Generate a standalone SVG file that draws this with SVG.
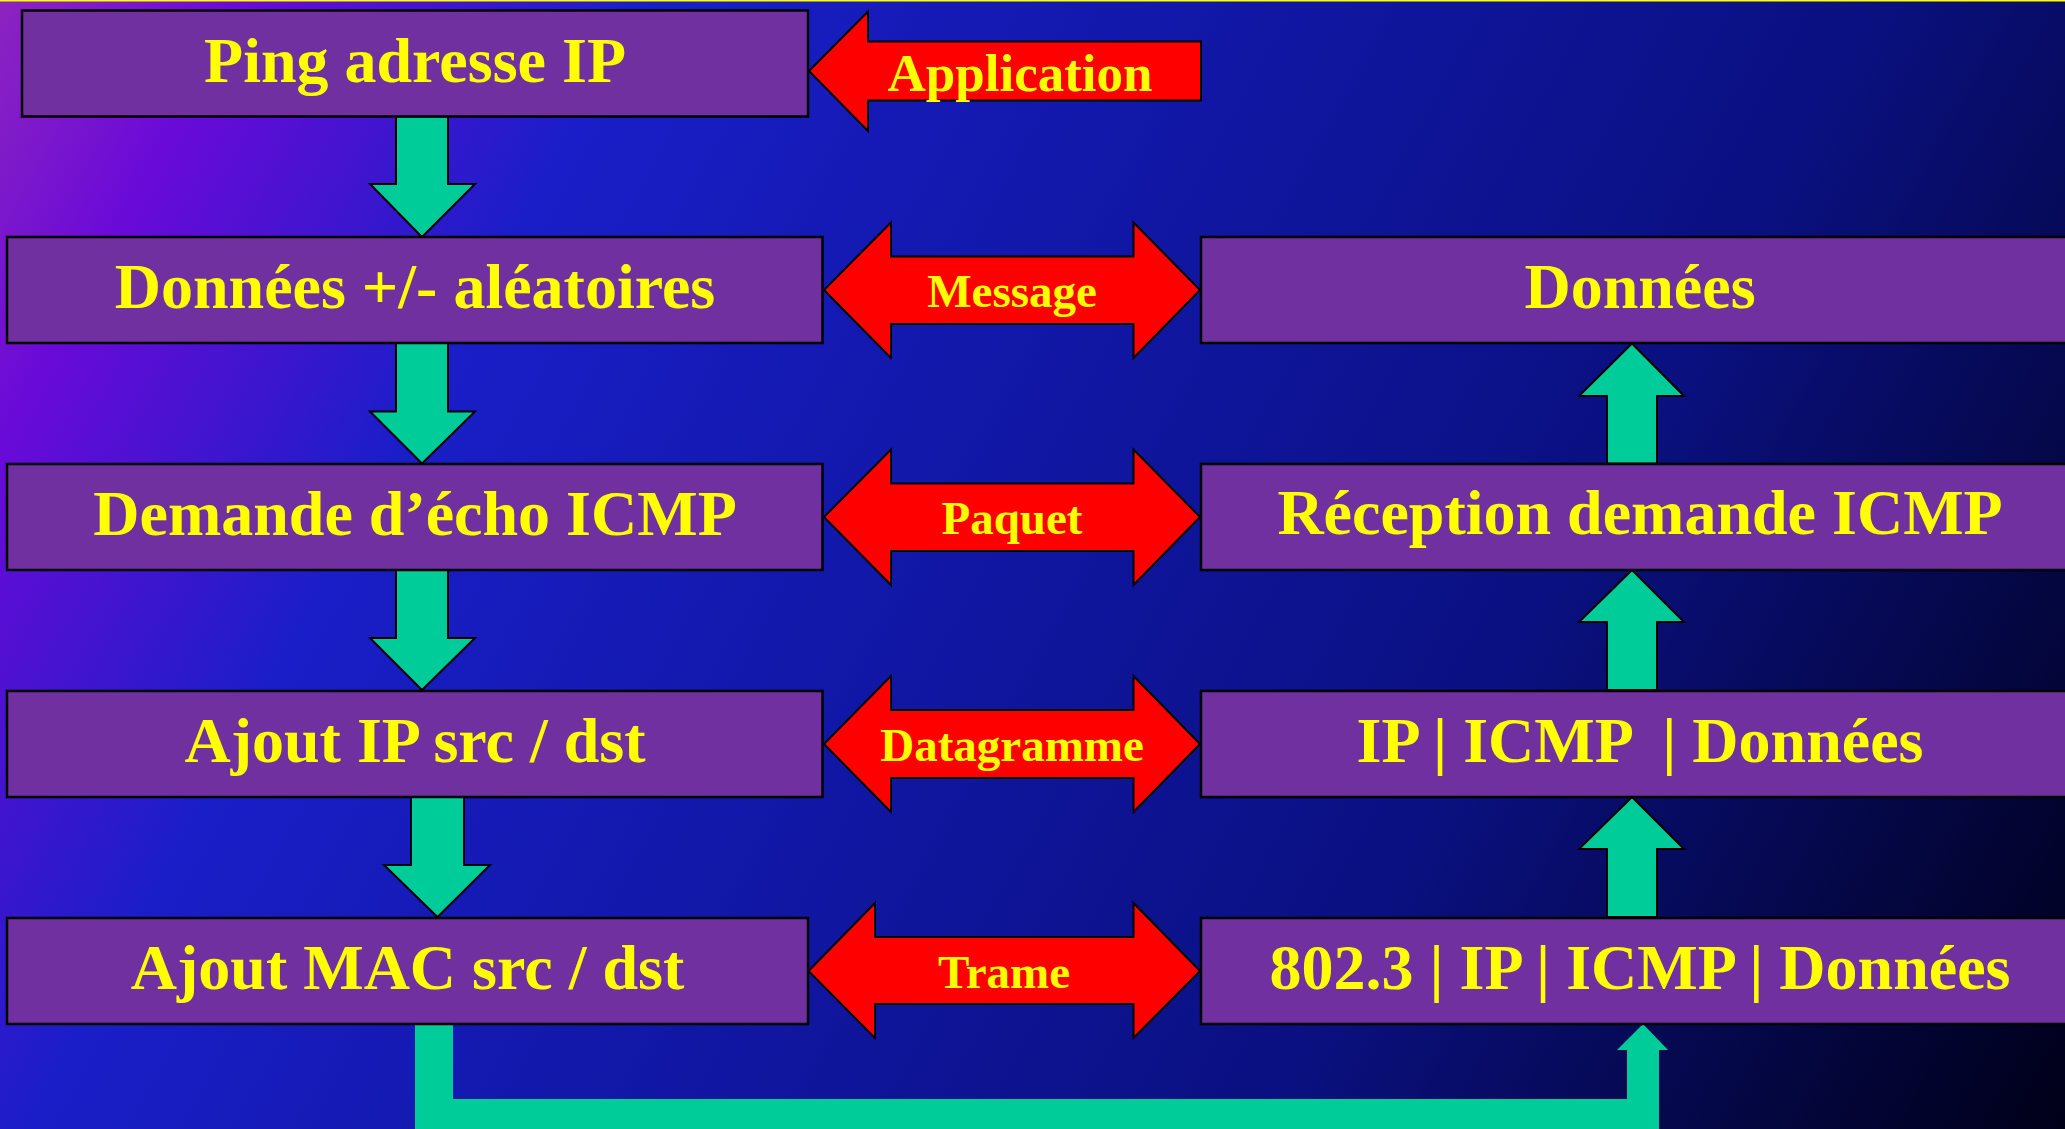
<svg xmlns="http://www.w3.org/2000/svg" width="2065" height="1129" viewBox="0 0 2065 1129">
  <defs>
    <linearGradient id="bg" gradientUnits="userSpaceOnUse" x1="0" y1="0" x2="2065" y2="1129">
      <stop offset="0" stop-color="#8c24c0"/>
      <stop offset="0.09" stop-color="#6a0ad8"/>
      <stop offset="0.24" stop-color="#1a1ec8"/>
      <stop offset="0.43" stop-color="#1218aa"/>
      <stop offset="0.7" stop-color="#0a1080"/>
      <stop offset="1" stop-color="#000018"/>
    </linearGradient>
    <style>
      .box { fill: #7030a0; stroke: #000000; stroke-width: 2.5; }
      .txt { font-family: "Liberation Serif", "Times New Roman", serif; font-weight: bold; fill: #ffff00; text-anchor: middle; }
      .big { font-size: 64px; }
      .lbl { font-size: 47px; }
      .red { fill: #ff0000; stroke: #000000; stroke-width: 2; stroke-linejoin: miter; }
      .flow { fill: #00cc99; stroke: #000000; stroke-width: 2; stroke-linejoin: miter; }
      .link { fill: #00cc99; }
    </style>
  </defs>

  <!-- background -->
  <rect x="0" y="0" width="2065" height="1129" fill="url(#bg)"/>
  <rect x="0" y="0" width="2065" height="1.5" fill="#ffff00"/>

  <!-- vertical flow arrows -->
  <g id="connectors">
    <!-- sender: downward steps -->
    <polygon class="flow" points="396,116.5 448,116.5 448,184 475,184 422,237 370,184 396,184"/>
    <polygon class="flow" points="396,343 448,343 448,411.5 475,411.5 422,463.5 370,411.5 396,411.5"/>
    <polygon class="flow" points="396,570 448,570 448,638 475,638 422,690 370,638 396,638"/>
    <polygon class="flow" points="411,797 464,797 464,865 490,865 437.5,917 384,865 411,865"/>
    <!-- receiver: upward steps -->
    <polygon class="flow" points="1607,463.5 1657,463.5 1657,396 1684,396 1632,343.5 1579,396 1607,396"/>
    <polygon class="flow" points="1607,690 1657,690 1657,622 1684,622 1632,570 1579,622 1607,622"/>
    <polygon class="flow" points="1607,917 1657,917 1657,849 1684,849 1632,797 1579,849 1607,849"/>
    <!-- wire between the two hosts -->
    <polygon class="link" points="415,1024 453,1024 453,1099 1627,1099 1627,1050 1617,1050 1643,1024 1668,1050 1659,1050 1659,1129 415,1129"/>
  </g>

  <!-- sender side -->
  <g id="ping">
    <rect class="box" x="22" y="10.5" width="786" height="106"/>
    <text class="txt big" x="415" y="82">Ping adresse IP</text>
  </g>
  <g id="donnees-alea">
    <rect class="box" x="7" y="237" width="815.5" height="106"/>
    <text class="txt big" x="415" y="308">Données +/- aléatoires</text>
  </g>
  <g id="demande-echo">
    <rect class="box" x="7" y="464" width="815.5" height="106"/>
    <text class="txt big" x="415" y="535">Demande d’écho ICMP</text>
  </g>
  <g id="ajout-ip">
    <rect class="box" x="7" y="691" width="815.5" height="106"/>
    <text class="txt big" x="415" y="762">Ajout IP src / dst</text>
  </g>
  <g id="ajout-mac">
    <rect class="box" x="7" y="918" width="801" height="106"/>
    <text class="txt big" x="407.5" y="989">Ajout MAC src / dst</text>
  </g>

  <!-- receiver side -->
  <g id="donnees">
    <rect class="box" x="1201" y="237" width="880" height="106"/>
    <text class="txt big" x="1640" y="308">Données</text>
  </g>
  <g id="reception">
    <rect class="box" x="1201" y="464" width="880" height="106"/>
    <text class="txt big" x="1640" y="534">Réception demande ICMP</text>
  </g>
  <g id="ip-icmp">
    <rect class="box" x="1201" y="691" width="880" height="106"/>
    <text class="txt big" x="1640" y="762" xml:space="preserve">IP | ICMP  | Données</text>
  </g>
  <g id="trame-complete">
    <rect class="box" x="1201" y="918" width="880" height="106"/>
    <text class="txt big" x="1640" y="989">802.3 | IP | ICMP | Données</text>
  </g>

  <!-- layer names -->
  <g id="application">
    <polygon class="red" points="809,71 868,11.5 868,41.5 1201,41.5 1201,100.5 868,100.5 868,131"/>
    <text class="txt" font-size="53" x="1020" y="91">Application</text>
  </g>
  <g id="message">
    <polygon class="red" points="824,290 891,222.5 891,256.5 1133.5,256.5 1133.5,222.5 1200,290 1133.5,358 1133.5,324 891,324 891,358"/>
    <text class="txt lbl" x="1012" y="307">Message</text>
  </g>
  <g id="paquet">
    <polygon class="red" points="824,517 891,449.5 891,483.5 1133.5,483.5 1133.5,449.5 1200,517 1133.5,585 1133.5,551 891,551 891,585"/>
    <text class="txt lbl" x="1012" y="534">Paquet</text>
  </g>
  <g id="datagramme">
    <polygon class="red" points="824,744 891,676 891,710 1133.5,710 1133.5,676 1200,744 1133.5,812 1133.5,778 891,778 891,812"/>
    <text class="txt lbl" x="1012" y="761">Datagramme</text>
  </g>
  <g id="trame">
    <polygon class="red" points="808.5,971 875,903 875,937 1133.5,937 1133.5,903 1200,971 1133.5,1038 1133.5,1004 875,1004 875,1038"/>
    <text class="txt lbl" x="1004" y="988">Trame</text>
  </g>
</svg>
